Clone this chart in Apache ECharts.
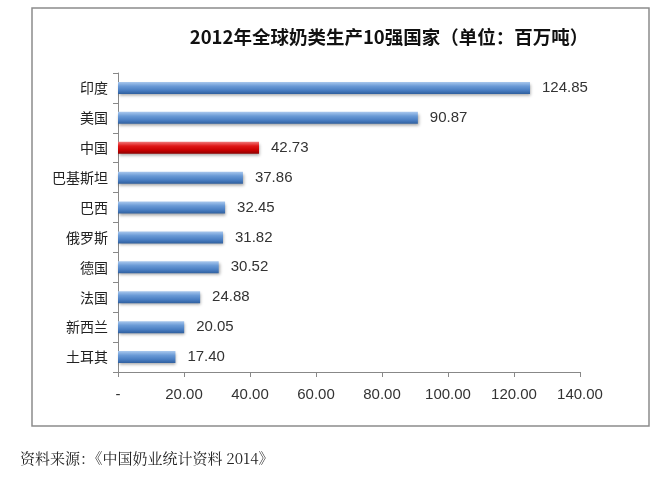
<!DOCTYPE html>
<html><head><meta charset="utf-8">
<script src="https://cdn.jsdelivr.net/npm/echarts@6/dist/echarts.min.js"></script>
<style>html,body{margin:0;padding:0;background:#fff}#c{width:660px;height:478px}</style>
</head><body><div id="c"></div>
<script>
const categories = ['印度','美国','中国','巴基斯坦','巴西','俄罗斯','德国','法国','新西兰','土耳其'];
const values = [124.85, 90.87, 42.73, 37.86, 32.45, 31.82, 30.52, 24.88, 20.05, 17.40];
const highlight = '中国';
const titleText = '2012年全球奶类生产10强国家（单位：百万吨）';
const sourceText = '资料来源：《中国奶业统计资料 2014》';

const blue = new echarts.graphic.LinearGradient(0,0,0,1,[
  {offset:0,color:'#a9c8ee'},{offset:0.35,color:'#6a9ad6'},{offset:0.7,color:'#4a7ec2'},{offset:1,color:'#2f5f9e'}]);
const red = new echarts.graphic.LinearGradient(0,0,0,1,[
  {offset:0,color:'#f07a7a'},{offset:0.35,color:'#e01818'},{offset:0.7,color:'#c80000'},{offset:1,color:'#8e0000'}]);

const chart = echarts.init(document.getElementById('c'));
chart.setOption({
  animation:false,
  graphic:[
    {type:'rect',shape:{x:32,y:8,width:617,height:418},style:{fill:'none',stroke:'#8c8c8c',lineWidth:1.5},silent:true},
    {type:'text',left:20,top:451,style:{text:sourceText,font:'15px "Noto Serif CJK SC","DejaVu Serif",serif',fill:'#222'}}
  ],
  title:{text:titleText,left:384,top:23,textAlign:'center',
    textStyle:{fontSize:18.5,fontWeight:'bold',color:'#111',fontFamily:'"Noto Sans CJK SC",sans-serif'}},
  grid:{left:118,right:80,top:73,bottom:106,containLabel:false},
  xAxis:{type:'value',min:0,max:140,interval:20,
    axisLine:{show:true,lineStyle:{color:'#888'}},
    axisTick:{show:true,length:5,lineStyle:{color:'#888'}},
    splitLine:{show:false},
    axisLabel:{margin:15,fontSize:15,color:'#333',fontFamily:'"Liberation Sans","Noto Sans",sans-serif',
      formatter:v=>v===0?'-':v.toFixed(2)}},
  yAxis:{type:'category',data:categories,inverse:true,
    axisLine:{show:true,lineStyle:{color:'#888'}},
    axisTick:{show:true,length:5,lineStyle:{color:'#888'}},
    axisLabel:{margin:10,fontSize:14,color:'#222',fontFamily:'"Noto Sans CJK SC",sans-serif'}},
  series:[{type:'bar',barWidth:12,
    data:values.map((v,i)=>({value:v,itemStyle:{color:categories[i]===highlight?red:blue}})),
    itemStyle:{shadowColor:'rgba(0,0,0,0.35)',shadowBlur:3,shadowOffsetX:1,shadowOffsetY:2},
    label:{show:true,position:'right',distance:12,fontSize:15,color:'#333',
      fontFamily:'"Liberation Sans","Noto Sans",sans-serif',formatter:p=>p.value.toFixed(2)}}]
});
</script></body></html>
